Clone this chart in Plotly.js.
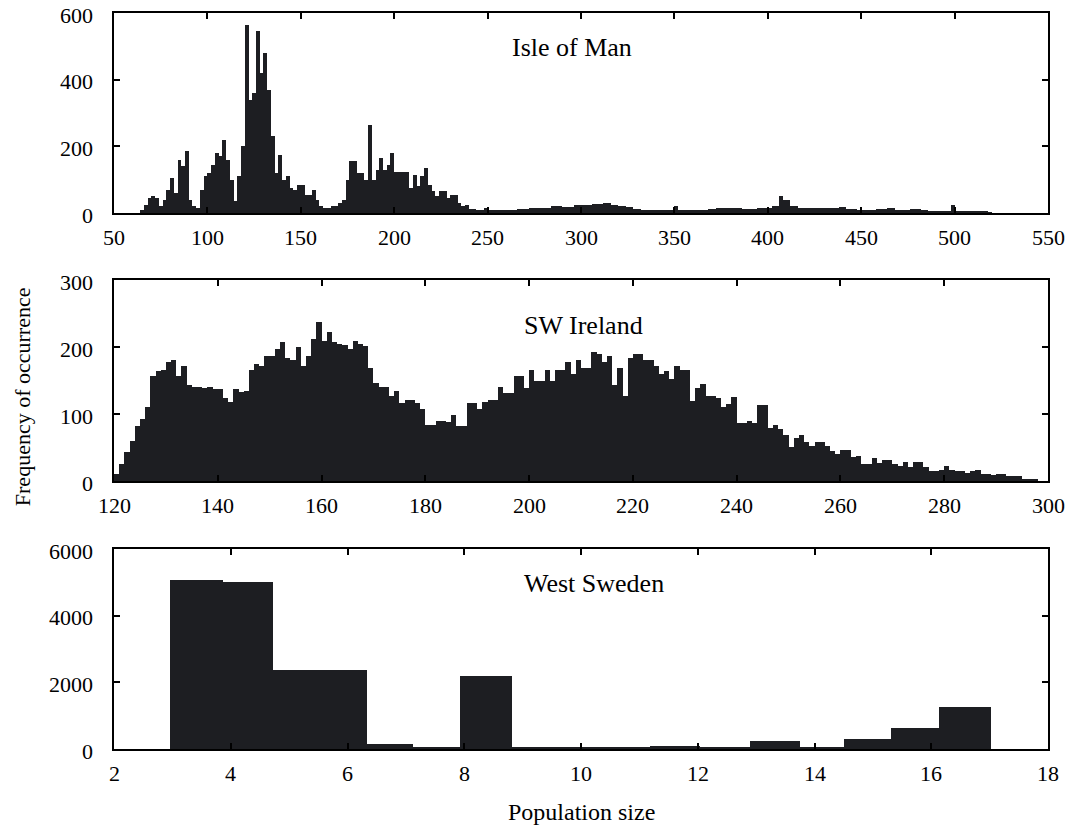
<!DOCTYPE html>
<html>
<head>
<meta charset="utf-8">
<script src="https://cdn.plot.ly/plotly-3.0.1.min.js"></script>
<style>html,body{margin:0;padding:0;background:#fff;}#chart{width:1067px;height:828px;}</style>
</head>
<body>
<div id="chart"></div>
<script>
// ---- Isle of Man: counts in 2-unit bins starting at 64 ----
const imBinStart = 64;
const imBinWidth = 2;
const imCounts = [
  10,25,45,50,45,20,40,70,105,60,
  160,140,185,40,20,15,70,110,120,145,
  180,170,220,160,100,35,110,200,565,340,
  360,545,420,480,370,230,120,175,100,110,
  75,70,85,85,55,55,70,40,20,15,
  15,20,20,30,40,100,155,155,120,120,
  100,265,100,130,165,130,145,180,123,123,
  123,123,75,115,80,110,135,85,65,50,
  65,65,45,55,55,30,20,25,12,12,
  10,10,15,8,8,8,8,10,10,10,
  10,12,12,12,15,15,15,15,15,15,
  22,20,20,18,18,18,25,25,25,25,
  25,28,28,28,30,30,25,25,20,20,
  18,18,12,12,8,8,8,8,8,8,
  8,8,8,20,8,8,8,8,8,8,
  8,10,12,12,15,15,15,15,15,15,
  15,12,12,12,12,15,15,15,15,20,
  20,52,40,40,20,20,15,15,15,15,
  15,14,14,14,14,15,15,18,18,12,
  12,12,10,10,10,10,10,12,12,12,
  14,14,10,10,10,10,12,12,12,10,
  10,6,6,6,6,6,6,25,5,5,
  5,5,5,5,5,5,5,3
];
const imXTicks = [50,100,150,200,250,300,350,400,450,500,550];
const imYTicks = [0,200,400,600];

// ---- SW Ireland: counts in 1-unit bins starting at 120 ----
const swiBinStart = 120;
const swiBinWidth = 1;
const swiCounts = [
  10,25,44,59,82,93,110,156,164,166,
  178,181,156,172,144,141,140,139,140,138,
  138,124,118,138,133,135,166,175,172,187,
  187,197,207,183,181,200,172,187,212,237,
  209,222,207,204,203,197,209,205,201,169,
  146,140,140,127,135,117,121,121,116,107,
  84,84,90,90,88,99,82,82,116,116,
  107,118,121,121,141,131,131,156,156,139,
  166,150,150,166,150,166,166,178,160,181,
  169,169,193,190,178,187,144,169,127,183,
  189,189,180,180,172,159,164,152,172,166,
  166,119,139,145,127,127,124,110,115,125,
  87,87,90,87,113,113,79,84,78,69,
  51,64,69,58,52,58,58,52,45,40,
  47,47,36,38,25,25,35,27,31,31,
  25,22,28,21,28,28,21,15,15,17,
  22,17,15,15,12,15,16,11,11,9,
  10,10,7,7,7,3,3,3
];
const swiXTicks = [120,140,160,180,200,220,240,260,280,300];
const swiYTicks = [0,100,200,300];

// ---- West Sweden: bin edges and counts ----
const wsEdges = [2.96,3.86,4.72,5.52,6.33,7.12,7.92,8.81,9.6,10.4,11.18,12.04,12.9,13.76,14.5,15.31,16.13,17.02];
const wsCounts = [5080,5000,2370,2370,160,50,2190,50,50,50,100,60,230,60,300,630,1260];
const wsXTicks = [2,4,6,8,10,12,14,16,18];
const wsYTicks = [0,2000,4000,6000];

// ---- labels ----
const panelTitles = ["Isle of Man", "SW Ireland", "West Sweden"];
const yTitle = "Frequency of occurrence";
const xTitle = "Population size";

const barColor = "#1d1e22";
const FONT = "Liberation Serif";
const tickFont = {family: FONT, size: 22, color: "#000"};

const imX = imCounts.map((_, i) => imBinStart + imBinWidth * (i + 0.5));
const swiX = swiCounts.map((_, i) => swiBinStart + swiBinWidth * (i + 0.5));
const wsX = wsCounts.map((_, i) => (wsEdges[i] + wsEdges[i + 1]) / 2);
const wsW = wsCounts.map((_, i) => wsEdges[i + 1] - wsEdges[i]);

const traces = [
  {type: "bar", x: imX, y: imCounts, width: imBinWidth, xaxis: "x", yaxis: "y",
   marker: {color: barColor, line: {width: 0}}},
  {type: "bar", x: swiX, y: swiCounts, width: swiBinWidth, xaxis: "x2", yaxis: "y2",
   marker: {color: barColor, line: {width: 0}}},
  {type: "bar", x: wsX, y: wsCounts, width: wsW, xaxis: "x3", yaxis: "y3",
   marker: {color: barColor, line: {width: 0}}}
];

function ax(extra) {
  const base = {
    showline: true, linecolor: "#000", linewidth: 2, mirror: "ticks",
    ticks: "inside", ticklen: 6, tickwidth: 2, tickcolor: "#000",
    showgrid: false, zeroline: false, showticklabels: false
  };
  for (const k in extra) base[k] = extra[k];
  return base;
}

// tick labels drawn as text at the axis tick values
function tickLabels(xa, ya, xTicks, yTicks) {
  const out = [];
  xTicks.forEach(v => out.push({text: String(v), xref: xa, yref: ya + " domain", x: v, y: 0,
    xanchor: "center", yanchor: "middle", yshift: -24, showarrow: false, font: tickFont}));
  yTicks.forEach(v => out.push({text: String(v), xref: xa + " domain", yref: ya, x: 0, y: v,
    xanchor: "right", yanchor: "middle", xshift: -19, yshift: -2, showarrow: false, font: tickFont}));
  return out;
}

const H = 736;
const annotations = [
  {text: panelTitles[0], xref: "x domain", yref: "y domain", x: 0.49, y: 0.83,
   showarrow: false, xanchor: "center", yanchor: "middle", font: {family: FONT, size: 26, color: "#000"}},
  {text: panelTitles[1], xref: "x2 domain", yref: "y2 domain", x: 0.503, y: 0.776,
   showarrow: false, xanchor: "center", yanchor: "middle", font: {family: FONT, size: 26, color: "#000"}},
  {text: panelTitles[2], xref: "x3 domain", yref: "y3 domain", x: 0.514, y: 0.83,
   showarrow: false, xanchor: "center", yanchor: "middle", font: {family: FONT, size: 26, color: "#000"}},
  {text: yTitle, xref: "paper", yref: "paper", x: -0.0985, y: 0.478, textangle: -90,
   showarrow: false, xanchor: "center", yanchor: "middle", font: {family: FONT, size: 22, color: "#000"}},
  {text: xTitle, xref: "paper", yref: "paper", x: 0.5, y: -0.0856,
   showarrow: false, xanchor: "center", yanchor: "middle", font: {family: FONT, size: 24, color: "#000"}}
].concat(
  tickLabels("x", "y", imXTicks, imYTicks),
  tickLabels("x2", "y2", swiXTicks, swiYTicks),
  tickLabels("x3", "y3", wsXTicks, wsYTicks)
);

const layout = {
  width: 1067, height: 828,
  margin: {l: 114, r: 19, t: 13, b: 79, pad: 0},
  paper_bgcolor: "#fff", plot_bgcolor: "#fff",
  showlegend: false, bargap: 0,
  font: {family: FONT, color: "#000", size: 22},
  xaxis:  ax({domain: [0, 1], anchor: "y",  range: [50, 550], tickvals: imXTicks}),
  yaxis:  ax({domain: [536 / H, 1], anchor: "x", range: [0, 600], tickvals: imYTicks}),
  xaxis2: ax({domain: [0, 1], anchor: "y2", range: [120, 300], tickvals: swiXTicks}),
  yaxis2: ax({domain: [268 / H, 469 / H], anchor: "x2", range: [0, 300], tickvals: swiYTicks}),
  xaxis3: ax({domain: [0, 1], anchor: "y3", range: [2, 18], tickvals: wsXTicks}),
  yaxis3: ax({domain: [0, 200 / H], anchor: "x3", range: [0, 6000], tickvals: wsYTicks}),
  annotations: annotations
};

Plotly.newPlot("chart", traces, layout, {staticPlot: true, displayModeBar: false});
</script>
</body>
</html>
